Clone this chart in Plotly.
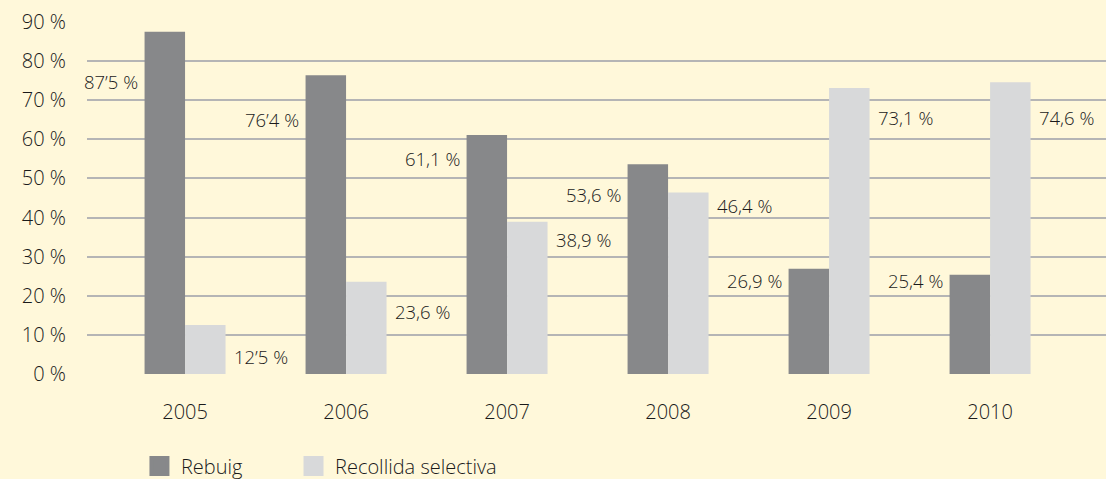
import plotly.graph_objects as go

years = ["2005", "2006", "2007", "2008", "2009", "2010"]
rebuig = [87.5, 76.4, 61.1, 53.6, 26.9, 25.4]
recollida = [12.5, 23.6, 38.9, 46.4, 73.1, 74.6]
rebuig_labels = ["87’5 %", "76’4 %", "61,1 %", "53,6 %", "26,9 %", "25,4 %"]
recollida_labels = ["12’5 %", "23,6 %", "38,9 %", "46,4 %", "73,1 %", "74,6 %"]
# vertical placement (in axis units) of the value labels
rebuig_label_y = [74.7, 65.0, 55.0, 45.8, 24.0, 24.0]
recollida_label_y = [4.6, 15.9, 34.3, 43.0, 65.5, 65.5]
yticks = [0, 10, 20, 30, 40, 50, 60, 70, 80, 90]
ytick_text = [f"{v} %" for v in yticks]

DARK = "#87888a"
LIGHT = "#d8d9da"
BG = "#fff8da"
TXT = "#1a1a1a"
FONT = "Open Sans"
W = 300

fig = go.Figure()
fig.add_bar(x=years, y=rebuig, name="Rebuig", marker=dict(color=DARK, line_width=0), showlegend=False)
fig.add_bar(x=years, y=recollida, name="Recollida selectiva", marker=dict(color=LIGHT, line_width=0), showlegend=False)
# legend swatches
fig.add_scatter(x=[None], y=[None], mode="markers", name="Rebuig", legend="legend",
                marker=dict(symbol="square", size=16, color=DARK, line=dict(width=4, color=DARK)))
fig.add_scatter(x=[None], y=[None], mode="markers", name="Recollida selectiva", legend="legend2",
                marker=dict(symbol="square", size=16, color=LIGHT, line=dict(width=4, color=LIGHT)))

for i, (lab, ly) in enumerate(zip(rebuig_labels, rebuig_label_y)):
    fig.add_annotation(x=i, y=ly, text=lab, showarrow=False, xanchor="right",
                       xshift=-45, font=dict(size=18.5, color=TXT, family=FONT, weight=W))
for i, (lab, ly) in enumerate(zip(recollida_labels, recollida_label_y)):
    fig.add_annotation(x=i, y=ly, text=lab, showarrow=False, xanchor="left",
                       xshift=47, font=dict(size=18.5, color=TXT, family=FONT, weight=W))

leg_common = dict(orientation="h", yanchor="middle", y=-0.2615, xanchor="left",
                  font=dict(size=20, color=TXT, family=FONT, weight=W), bgcolor="rgba(0,0,0,0)",
                  itemwidth=33)

fig.update_layout(
    width=1106, height=479,
    paper_bgcolor=BG, plot_bgcolor=BG,
    margin=dict(l=87, r=0, t=22, b=105, autoexpand=False),
    barmode="group", bargap=0.497, bargroupgap=0,
    font=dict(family=FONT, color=TXT, size=19, weight=W),
    legend=dict(x=0.05, **leg_common),
    legend2=dict(x=0.2012, **leg_common),
    xaxis=dict(type="category", range=[-0.609, 5.72], showgrid=False, zeroline=False,
               showline=False, ticks="", ticklabelstandoff=24,
               tickfont=dict(size=20, color=TXT, family=FONT, weight=W)),
    yaxis=dict(range=[0, 90], tickmode="array", tickvals=yticks, ticktext=ytick_text,
               showgrid=True, gridcolor="#b5b5b5", gridwidth=2, zeroline=False,
               showline=False, ticks="", ticklabelstandoff=20,
               tickfont=dict(size=20, color=TXT, family=FONT, weight=W)),
)

fig.write_html("out.html", config={"displayModeBar": False},
               post_script="document.body.style.margin='0px';")
